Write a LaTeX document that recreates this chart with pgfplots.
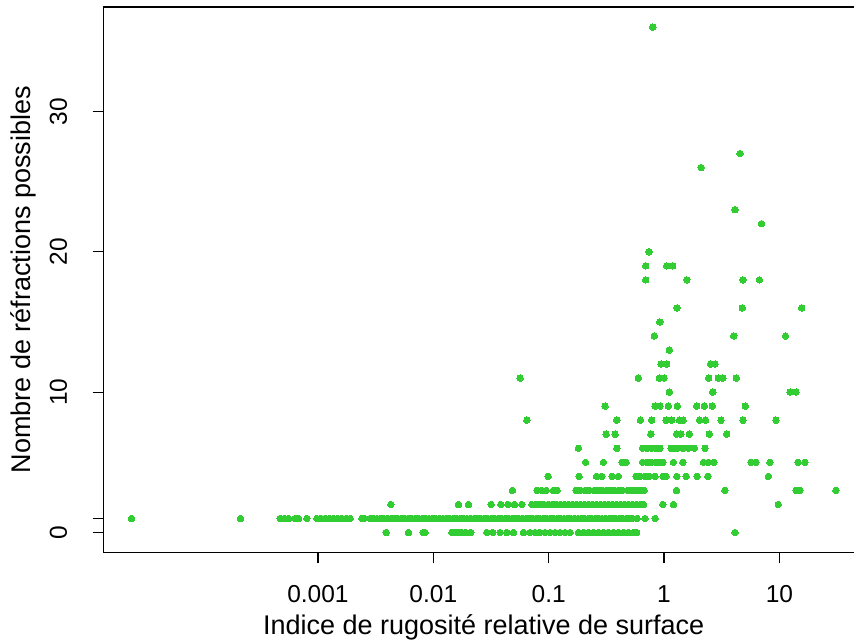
\documentclass[border=0pt]{standalone}
\usepackage{fontspec}
\setmainfont{Liberation Sans}
\usepackage{pgfplots}
\usepackage{pgfplotstable}
\pgfplotsset{compat=1.18}
\definecolor{lg}{RGB}{50,205,50}

% log10 of the roughness index, number of refractions
\pgfplotstableread{
lx y
-2.408 0
-2.215 0
-2.088 0
-2.071 0
-1.839 0
-1.819 0
-1.796 0
-1.773 0
-1.753 0
-1.718 0
-1.675 0
-1.536 0
-1.484 0
-1.421 0
-1.363 0
-1.306 0
-1.219 0
-1.161 0
-1.118 0
-1.080 0
-1.031 0
-0.988 0
-0.944 0
-0.901 0
-0.858 0
-0.814 0
-0.742 0
-0.699 0
-0.656 0
-0.612 0
-0.569 0
-0.526 0
-0.483 0
-0.439 0
-0.396 0
-0.353 0
-0.309 0
-0.266 0
-0.237 0
0.615 0
-4.615 1
-3.671 1
-3.327 1
-3.292 1
-3.255 1
-3.197 1
-3.168 1
-3.095 1
-3.009 1
-2.974 1
-2.937 1
-2.900 1
-2.865 1
-2.827 1
-2.792 1
-2.755 1
-2.720 1
-2.619 1
-2.599 1
-2.547 1
-2.516 1
-2.488 1
-2.456 1
-2.428 1
-2.397 1
-2.366 1
-2.338 1
-2.307 1
-2.276 1
-2.248 1
-2.217 1
-2.186 1
-2.158 1
-2.127 1
-2.096 1
-2.068 1
-2.037 1
-2.006 1
-1.978 1
-1.947 1
-1.916 1
-1.888 1
-1.857 1
-1.826 1
-1.798 1
-1.767 1
-1.736 1
-1.708 1
-1.677 1
-1.646 1
-1.618 1
-1.587 1
-1.556 1
-1.528 1
-1.497 1
-1.466 1
-1.438 1
-1.407 1
-1.376 1
-1.348 1
-1.317 1
-1.286 1
-1.258 1
-1.227 1
-1.196 1
-1.168 1
-1.137 1
-1.106 1
-1.078 1
-1.047 1
-1.016 1
-0.988 1
-0.957 1
-0.926 1
-0.898 1
-0.867 1
-0.836 1
-0.808 1
-0.777 1
-0.746 1
-0.718 1
-0.687 1
-0.656 1
-0.628 1
-0.597 1
-0.566 1
-0.538 1
-0.507 1
-0.476 1
-0.448 1
-0.417 1
-0.386 1
-0.358 1
-0.327 1
-0.296 1
-0.277 1
-0.234 1
-0.165 1
-0.078 1
-2.368 2
-1.782 2
-1.695 2
-1.499 2
-1.415 2
-1.354 2
-1.297 2
-1.233 2
-1.146 2
-1.110 2
-1.075 2
-1.041 2
-1.005 2
-0.970 2
-0.936 2
-0.900 2
-0.865 2
-0.831 2
-0.795 2
-0.760 2
-0.726 2
-0.690 2
-0.655 2
-0.621 2
-0.585 2
-0.550 2
-0.516 2
-0.480 2
-0.445 2
-0.411 2
-0.375 2
-0.340 2
-0.306 2
-0.270 2
-0.235 2
-0.201 2
-0.179 2
-0.011 2
0.081 2
0.990 2
-1.314 3
-1.100 3
-1.060 3
-1.022 3
-0.959 3
-0.927 3
-0.762 3
-0.728 3
-0.684 3
-0.650 3
-0.606 3
-0.572 3
-0.537 3
-0.502 3
-0.468 3
-0.433 3
-0.398 3
-0.364 3
-0.312 3
-0.277 3
-0.243 3
-0.208 3
-0.173 3
0.108 3
0.528 3
1.144 3
1.178 3
1.490 3
-1.005 4
-0.736 4
-0.585 4
-0.540 4
-0.450 4
-0.396 4
-0.243 4
-0.208 4
-0.165 4
-0.130 4
-0.078 4
-0.009 4
0.017 4
0.110 4
0.191 4
0.286 4
0.379 4
0.904 4
-0.680 5
-0.526 5
-0.364 5
-0.329 5
-0.186 5
-0.147 5
-0.113 5
-0.069 5
-0.035 5
-0.009 5
0.081 5
0.162 5
0.342 5
0.384 5
0.433 5
0.754 5
0.797 5
0.918 5
1.161 5
1.221 5
-0.742 6
-0.410 6
-0.186 6
-0.147 6
-0.108 6
-0.069 6
-0.035 6
0.061 6
0.087 6
0.115 6
0.162 6
0.211 6
0.262 6
0.355 6
-0.502 7
-0.424 7
-0.115 7
0.110 7
0.145 7
0.219 7
0.392 7
0.543 7
-1.189 8
-0.410 8
-0.205 8
-0.107 8
0.017 8
0.067 8
0.133 8
0.165 8
0.308 8
0.360 8
0.494 8
0.684 8
0.970 8
-0.511 9
-0.078 9
-0.035 9
0.037 9
0.115 9
0.283 9
0.349 9
0.418 9
0.704 9
0.046 10
0.422 10
1.092 10
1.144 10
-1.247 11
-0.223 11
-0.041 11
0.000 11
0.387 11
0.470 11
0.509 11
0.626 11
-0.026 12
0.023 12
0.403 12
0.442 12
0.046 13
-0.084 14
0.604 14
1.053 14
-0.037 15
0.113 16
0.678 16
1.193 16
-0.159 18
0.197 18
0.684 18
0.827 18
-0.159 19
0.023 19
0.075 19
-0.130 20
0.845 22
0.615 23
0.321 26
0.658 27
-0.098 36
}\pts

\begin{document}
\begin{tikzpicture}
\path[use as bounding box] (0,0) rectangle (427pt,320pt);
\clip (0,0) rectangle (427pt,320pt);
\begin{axis}[
  at={(51.65pt,43.65pt)}, anchor=south west,
  scale only axis, width=380.35pt, height=272.85pt,
  xmode=log, xmin=1.380e-5, xmax=54.08,
  ymin=-1.44, ymax=37.44,
  xtick={0.001,0.01,0.1,1,10}, xticklabels={0.001,0.01,0.1,1,10},
  ytick={0,1,10,20,30}, yticklabels={0,{},10,20,30},
  xminorticks=false, yminorticks=false,
  tick align=outside, tick pos=left,
  major tick length=5.35pt,
  axis line style={line width=0.6pt},
  every tick/.style={black, line width=0.6pt},
  tick label style={font=\fontsize{12.25}{14}\selectfont, inner sep=0pt},
  xticklabel style={anchor=north, yshift=-10.8pt},
  yticklabel style={xshift=-12.6pt, rotate=90, anchor=south},
  every axis x label/.style={at={(axis description cs:0.5,0)}, anchor=base, yshift=-41.15pt, inner sep=0pt, font=\fontsize{13.5}{16}\selectfont},
  every axis y label/.style={at={(axis description cs:0,0.5)}, xshift=-36.2pt, rotate=90, anchor=base, inner sep=0pt, font=\fontsize{13.5}{16}\selectfont},
  xlabel={Indice de rugosité relative de surface},
  ylabel={Nombre de réfractions possibles},
]
\addplot[only marks, mark=*, color=lg, mark size=1.63pt, mark options={draw=lg, fill=lg, line width=0pt}]
  table[x expr={pow(10,\thisrow{lx})}, y=y] {\pts};
\end{axis}
\end{tikzpicture}
\end{document}
